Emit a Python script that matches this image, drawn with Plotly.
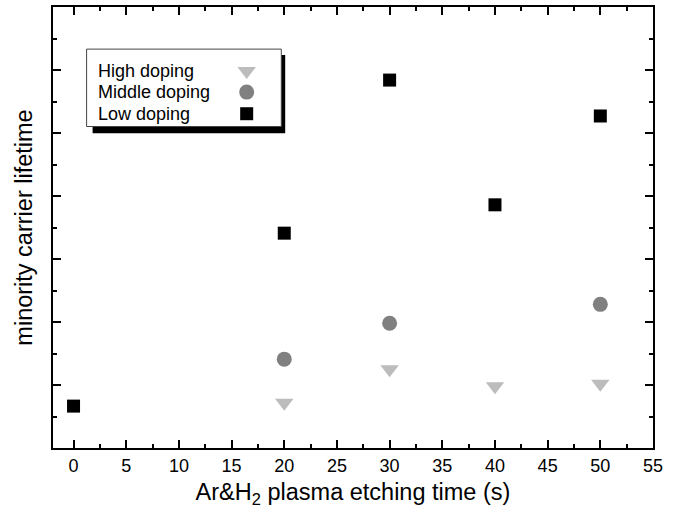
import plotly.graph_objects as go

# ---- data ----
time_high = [20, 30, 40, 50]
high_doping = [0.72, 1.25, 0.98, 1.02]
time_mid = [20, 30, 50]
middle_doping = [1.41, 1.98, 2.28]
time_low = [0, 20, 30, 40, 50]
low_doping = [0.665, 3.41, 5.84, 3.86, 5.27]
x_ticks = [0, 5, 10, 15, 20, 25, 30, 35, 40, 45, 50, 55]
series_names = ["High doping", "Middle doping", "Low doping"]

FONT = "Liberation Sans, Arial, sans-serif"
C_HIGH = "#bcbcbc"
C_MID = "#808080"
C_LOW = "#000000"

fig = go.Figure()
fig.add_trace(go.Scatter(x=time_high, y=high_doping, mode="markers", name=series_names[0],
                         marker=dict(symbol="triangle-down", size=16, color=C_HIGH), showlegend=False))
fig.add_trace(go.Scatter(x=time_mid, y=middle_doping, mode="markers", name=series_names[1],
                         marker=dict(symbol="circle", size=15, color=C_MID), showlegend=False))
fig.add_trace(go.Scatter(x=time_low, y=low_doping, mode="markers", name=series_names[2],
                         marker=dict(symbol="square", size=13, color=C_LOW), showlegend=False))

# ---- custom legend (symbols to the right of the text) ----
leg_y = [0.855, 0.807, 0.758]
leg_sym = ["triangle-down", "circle", "square"]
leg_col = [C_HIGH, C_MID, C_LOW]
leg_size = [16, 15, 13]
for name, yy, sym, col, sz in zip(series_names, leg_y, leg_sym, leg_col, leg_size):
    fig.add_trace(go.Scatter(x=[0.3228], y=[yy], xaxis="x2", yaxis="y2", mode="markers",
                             marker=dict(symbol=sym, size=sz, color=col), showlegend=False,
                             hoverinfo="skip"))
    fig.add_annotation(x=0.071, y=yy, xref="paper", yref="paper", text=name, showarrow=False,
                       xanchor="left", yanchor="middle", font=dict(family=FONT, size=18, color="black"))

# shadow + box
fig.add_shape(type="rect", xref="paper", yref="paper", x0=0.066, x1=0.387, y0=0.714, y1=0.891,
              fillcolor="black", line=dict(width=0), layer="below")
fig.add_shape(type="rect", xref="paper", yref="paper", x0=0.056, x1=0.3805, y0=0.729, y1=0.9045,
              fillcolor="white", line=dict(width=1, color="#444444"), layer="below")

axis_common = dict(showline=True, linewidth=2, linecolor="black", mirror="allticks",
                   ticks="inside", ticklen=8, tickwidth=1.5, tickcolor="black",
                   showgrid=False, zeroline=False)

fig.update_layout(
    width=681, height=520,
    margin=dict(l=53, r=28, t=5, b=72),
    paper_bgcolor="white", plot_bgcolor="rgba(0,0,0,0)",
    font=dict(family=FONT, color="black"),
    xaxis=dict(range=[-1.95, 55], tickvals=x_ticks, ticktext=[str(v) for v in x_ticks],
               tickfont=dict(size=18, family=FONT),
               minor=dict(dtick=2.5, tick0=0, ticks="inside", ticklen=4, tickwidth=1.5, tickcolor="black"),
               title=dict(text="Ar&H<sub>2</sub> plasma etching time (s)", font=dict(size=23.5, family=FONT),
                          standoff=9),
               **axis_common),
    yaxis=dict(range=[0, 7], dtick=1, tick0=0, showticklabels=False,
               minor=dict(dtick=0.5, tick0=0, ticks="inside", ticklen=4, tickwidth=1.5, tickcolor="black"),
               title=dict(text="minority carrier lifetime", font=dict(size=23.5, family=FONT), standoff=12),
               **axis_common),
    xaxis2=dict(overlaying="x", range=[0, 1], visible=False, fixedrange=True),
    yaxis2=dict(overlaying="y", range=[0, 1], visible=False, fixedrange=True),
)

fig.write_html("out.html", config={"displayModeBar": False},
               post_script="document.body.style.margin='0';")
